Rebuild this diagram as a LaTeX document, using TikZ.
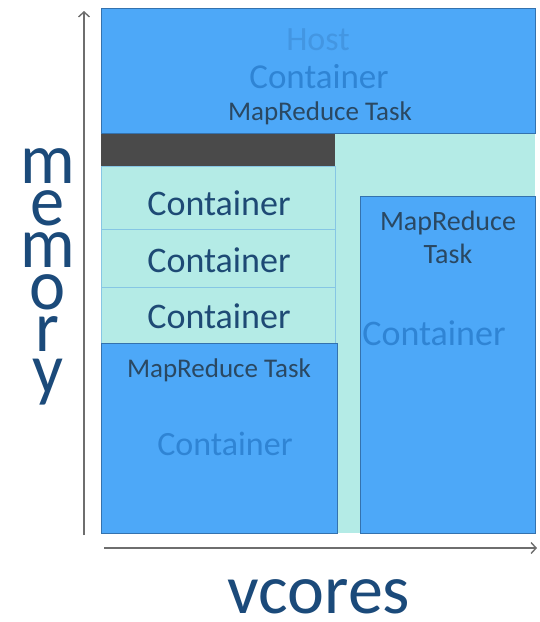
\documentclass[tikz,border=0pt]{standalone}
\usepackage{fontspec}
\setmainfont{Carlito}
\usetikzlibrary{arrows.meta}
\definecolor{boxblue}{HTML}{4DA8F8}
\definecolor{cyanbg}{HTML}{B4EBE6}
\definecolor{darkbar}{HTML}{4A4A4A}
\definecolor{edgeblue}{HTML}{3472AE}
\definecolor{textdark}{HTML}{1E4A75}
\definecolor{taskdark}{HTML}{2A4862}
\definecolor{fadeblue}{HTML}{2F84D4}
\definecolor{hostfade}{HTML}{4396E2}
\definecolor{axisgray}{HTML}{6E6E6E}
\definecolor{rowline}{HTML}{86C6E4}
\definecolor{axislabel}{HTML}{1B4A7A}
\newcommand\memfont{\fontsize{72}{42}\selectfont\lineskiplimit=-100pt\relax}
\begin{document}
\begin{tikzpicture}[x=1pt,y=-1pt,
  region/.style={anchor=north west, inner sep=0pt, outer sep=0pt},
  bluebox/.style={region, fill=boxblue, draw=edgeblue, line width=0.9pt},
  cyanbox/.style={region, fill=cyanbg, draw=rowline, line width=0.6pt},
  lbl/.style={anchor=base, inner sep=0pt},
  big/.style={lbl, font=\fontsize{36}{36}\selectfont, text=textdark},
  task/.style={lbl, font=\fontsize{27}{27}\selectfont, text=taskdark},
  faded/.style={lbl, font=\fontsize{35}{35}\selectfont, text=fadeblue},
  axis/.style={draw=axisgray, line width=1.4pt, -{Straight Barb[length=5pt,width=11pt,line width=1.4pt]}}
]
\useasboundingbox (0,0) rectangle (539,622);
\fill[white] (0,0) rectangle (539,622);

% host background (cyan)
\node[region, fill=cyanbg, minimum width=434pt, minimum height=400pt] (hostbg) at (101,133) {};
% host container band on top
\node[bluebox, minimum width=434pt, minimum height=125pt] (hosttop) at (101,8) {};
% dark reserved bar
\node[region, fill=darkbar, minimum width=234pt, minimum height=32pt] (reserved) at (101,134) {};
% three small containers
\node[cyanbox, minimum width=234pt, minimum height=63pt] (row1) at (101,166) {};
\node[cyanbox, minimum width=234pt, minimum height=58pt] (row2) at (101,229) {};
\node[cyanbox, minimum width=234pt, minimum height=56pt] (row3) at (101,287) {};
% bottom-left container with task
\node[bluebox, minimum width=236pt, minimum height=190pt] (leftbox) at (101,343) {};
% right tall container with task
\node[bluebox, minimum width=175pt, minimum height=337pt] (rightbox) at (360,196) {};

% texts in host band
\node[lbl, font=\fontsize{34}{34}\selectfont, text=hostfade] (hostlbl) at (318,50) {Host};
\node[faded] (hostcont) at (319,88) {Container};
\node[task] (hosttask) at (320,120) {MapReduce Task};

% small containers
\node[big] (c1) at (219,215) {Container};
\node[big] (c2) at (219,272) {Container};
\node[big] (c3) at (219,328) {Container};

% left bottom box
\node[task] (lefttask) at (219,377) {MapReduce Task};
\node[faded, font=\fontsize{34}{34}\selectfont] (leftcont) at (225,455) {Container};

% right box
\node[task, font=\fontsize{28}{28}\selectfont] (righttask1) at (448,230) {MapReduce};
\node[task, font=\fontsize{28}{28}\selectfont] (righttask2) at (448,263) {Task};
\node[faded, font=\fontsize{36}{36}\selectfont] (rightcont) at (434,345) {Container};

% axes
\coordinate (yorig) at (84,535);
\coordinate (ytip) at (84,11);
\coordinate (xorig) at (104,548);
\coordinate (xtip) at (537,548);
\draw[axis] (yorig) -- (ytip);
\draw[axis] (xorig) -- (xtip);

% axis labels
\node[lbl, font=\fontsize{70}{70}\selectfont, text=axislabel] (vcores) at (319,613) {vcores};
\node[inner sep=0pt, align=center, xscale=0.95, text=axislabel, font=\memfont] (memory) at (47.5,276.5)
      {m\\e\\m\\o\\r\\y};
\end{tikzpicture}
\end{document}
